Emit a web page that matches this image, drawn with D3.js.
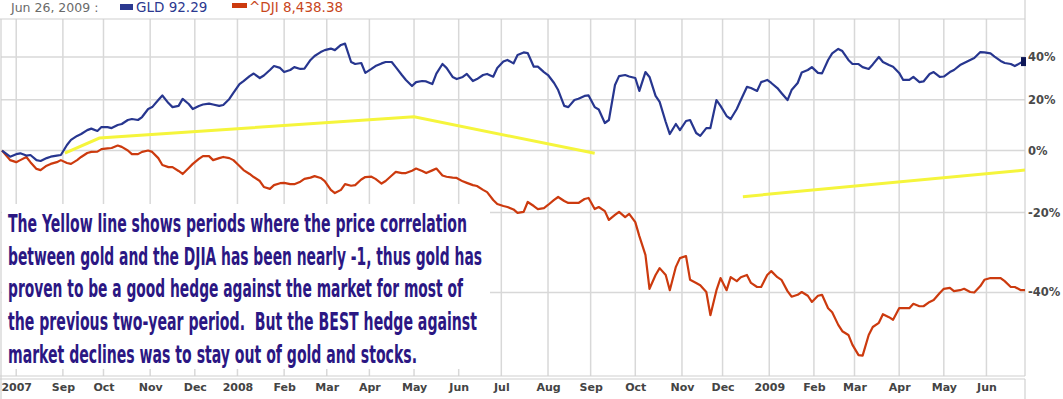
<!DOCTYPE html>
<html>
<head>
<meta charset="utf-8">
<script src="https://cdn.jsdelivr.net/npm/d3@7"></script>
<style>
	body { margin: 0; background: #fff; }
	svg { display: block; }
</style>
</head>
<body>
<svg width="1063" height="399"></svg>
<script>
// data start, sample dates: every Friday and every Wednesday after it
const startDate = new Date(2007, 6, 23);
const firstFriday = new Date(2007, 6, 27);
const firstWednesday = new Date(2007, 7, 1);
const endDate = new Date(2009, 5, 26);

// % change since start
// Friday values
const gldFri = [
	-2.2, -1.0, -1.6, -3.7, -2.2, -1.6, 3.9, 6.1, 8.2, 8.8,
	8.4, 10.0, 12.0, 12.8, 16.9, 21.9, 16.9, 20.4, 16.1, 18.0,
	18.0, 17.8, 23.0, 28.4, 31.9, 31.0, 35.5, 32.6, 35.0, 34.3,
	40.5, 43.5, 43.5, 46.9, 36.5, 32.2, 35.5, 37.5, 35.0, 28.9,
	27.9, 28.2, 31.9, 34.6, 29.3, 31.7, 29.3, 31.7, 34.6, 38.5,
	41.0, 42.0, 35.2, 31.2, 24.3, 16.9, 20.5, 21.9, 15.9, 11.6,
	30.7, 30.5, 23.9, 30.3, 19.1, 6.1, 7.6, 11.6, 5.4, 8.4,
	17.4, 12.0, 19.9, 25.2, 27.9, 27.5, 23.0, 24.3, 32.4, 35.0,
	32.0, 41.8, 43.0, 36.5, 35.0, 36.3, 37.5, 35.2, 28.9, 30.3,
	28.2, 32.6, 30.5, 33.6, 37.0, 39.5, 42.3, 40.2, 37.0, 35.5,
	37.7
];
// Wednesday values
const gldWed = [
	-1.3, -1.8, -3.4, -2.7, -1.8, 2.0, 5.4, 7.6, 7.3, 8.8,
	9.6, 11.6, 11.6, 16.1, 19.9, 18.6, 17.4, 18.2, 17.4, 18.4,
	17.4, 20.4, 27.0, 30.7, 29.8, 33.6, 34.6, 33.6, 34.1, 38.5,
	42.5, 44.3, 46.2, 37.5, 37.0, 34.1, 36.8, 37.5, 31.2, 26.1,
	28.4, 27.0, 36.5, 30.3, 30.3, 28.4, 31.2, 30.4, 37.7, 36.8,
	42.3, 35.2, 32.6, 27.5, 17.4, 19.9, 21.7, 16.9, 10.4, 26.6,
	31.2, 29.8, 32.6, 21.7, 10.8, 10.0, 11.2, 6.5, 8.4, 19.9,
	13.2, 16.1, 25.7, 23.9, 28.9, 25.2, 19.9, 27.5, 33.6, 32.2,
	38.5, 44.1, 38.5, 36.5, 34.1, 40.0, 36.0, 32.2, 28.9, 27.9,
	31.7, 30.3, 32.6, 36.0, 38.5, 42.5, 41.8, 38.0, 36.5, 37.2
];
const djiFri = [
	-3.4, -3.4, -4.1, -6.8, -4.7, -3.4, -4.7, -2.3, -0.5, 0.5,
	0.9, 1.3, -1.3, -0.5, -0.5, -5.1, -5.8, -8.1, -4.7, -2.0,
	-3.4, -2.3, -3.4, -6.8, -9.1, -12.3, -11.7, -11.0, -11.4, -9.7,
	-8.8, -10.4, -14.2, -11.4, -11.7, -9.1, -9.7, -10.4, -7.4, -7.8,
	-6.3, -7.8, -6.3, -9.0, -9.4, -11.0, -12.0, -13.9, -17.5, -18.4,
	-20.1, -16.9, -19.0, -17.8, -15.4, -17.2, -17.2, -15.7, -18.4, -22.1,
	-19.8, -20.4, -26.5, -39.2, -34.5, -39.5, -32.1, -37.2, -38.4, -44.7,
	-36.8, -36.6, -36.6, -37.9, -38.8, -35.2, -37.2, -40.9, -39.9, -42.0,
	-40.5, -44.1, -47.8, -50.3, -52.2, -47.0, -44.5, -45.6, -43.3, -42.4,
	-42.9, -41.6, -39.2, -39.7, -39.2, -40.0, -37.2, -36.8, -37.5, -38.8,
	-39.5
];
const djiWed = [
	-4.1, -2.3, -6.4, -5.3, -4.1, -4.4, -3.4, -0.9, -0.4, 0.8,
	1.8, 0.0, -1.3, 0.0, -2.7, -5.8, -7.1, -6.1, -3.0, -2.0,
	-2.7, -2.7, -5.4, -8.1, -10.4, -12.9, -11.1, -11.4, -10.6, -9.3,
	-9.4, -13.2, -13.2, -11.9, -9.9, -9.0, -11.2, -8.6, -7.8, -7.0,
	-7.1, -6.9, -8.6, -9.3, -10.5, -11.7, -13.2, -16.3, -18.1, -19.1,
	-19.8, -18.1, -18.7, -16.3, -16.6, -17.2, -16.0, -19.0, -19.6, -20.7,
	-21.3, -22.7, -31.3, -36.1, -36.1, -34.2, -31.6, -37.9, -39.9, -39.5,
	-39.5, -37.5, -36.1, -38.8, -36.1, -36.6, -39.7, -40.5, -40.7, -40.7,
	-43.3, -46.6, -48.5, -52.1, -48.5, -46.2, -45.1, -43.3, -43.3, -42.9,
	-42.0, -40.1, -39.0, -39.5, -39.9, -38.6, -36.8, -36.8, -38.8, -39.5
];

// yellow "correlation near -1" periods
const yellowDates1 = ["2007-09-04", "2007-09-27", "2008-05-01", "2008-09-03"];
const yellowPct1 = [-0.9, 4.6, 12.9, -1.0];
const yellowDates2 = ["2008-12-15", "2009-06-26"];
const yellowPct2 = [-15.3, -6.8];

const monthLabels = [
	"2007", "Sep", "Oct", "Nov", "Dec",
	"2008", "Feb", "Mar", "Apr", "May", "Jun", "Jul", "Aug", "Sep", "Oct", "Nov", "Dec",
	"2009", "Feb", "Mar", "Apr", "May", "Jun"
];
const yTicks = [40, 20, 0, -20, -40];

const headerDate = "Jun 26, 2009 :";
const gldLabel = "GLD 92.29";
const djiLabel = "^DJI 8,438.38";

const noteLines = [
	"The Yellow line shows periods where the price correlation",
	"between gold and the DJIA has been nearly -1, thus gold has",
	"proven to be a good hedge against the market for most of",
	"the previous two-year period.  But the BEST hedge against",
	"market declines was to stay out of gold and stocks."
];

// ---------------------------------------------------------------
const svg = d3.select("svg");
const plotL = 1, plotR = 1025, plotT = 19, plotB = 376;
const parse = d3.timeParse("%Y-%m-%d");

// trading-day (weekday) index since start
const wd = (d) =>
	d3.timeDay.count(startDate, d) -
	d3.timeSunday.count(startDate, d) -
	d3.timeMonday.count(startDate, d);

const x = d3.scaleLinear().domain([0, wd(endDate)]).range([2, plotR]);
const y = d3.scaleLog().domain([0.4443, 1.605]).range([plotB, plotT]);
const yp = (p) => y(1 + p / 100);

const months = d3.timeMonth.range(new Date(2007, 7, 1), new Date(2009, 6, 1));
const monthIdx = months.map(wd);

// gridlines
const grid = svg.append("g").attr("stroke", "#d8d8d8").attr("stroke-width", 1.5);
monthIdx.forEach((m) => {
	grid.append("line")
		.attr("x1", x(m)).attr("x2", x(m))
		.attr("y1", plotT).attr("y2", plotB);
});
yTicks.forEach((t) => {
	grid.append("line")
		.attr("x1", plotL).attr("x2", plotR)
		.attr("y1", yp(t)).attr("y2", yp(t));
});

// frame
const frame = svg.append("g").attr("stroke", "#d0d0d0").attr("stroke-width", 1.2).attr("fill", "none");
frame.append("line").attr("x1", 0).attr("x2", plotR).attr("y1", plotT).attr("y2", plotT);
frame.append("line").attr("x1", plotR).attr("x2", plotR).attr("y1", 0).attr("y2", plotB);
frame.append("line").attr("x1", plotL).attr("x2", plotL).attr("y1", plotT).attr("y2", 399);
frame.append("line").attr("x1", 0).attr("x2", plotR).attr("y1", plotB).attr("y2", plotB);
frame.append("line").attr("x1", 0).attr("x2", plotR).attr("y1", 379).attr("y2", 379);
frame.append("line").attr("x1", plotR).attr("x2", plotR).attr("y1", 379).attr("y2", 399);

// note box (white, covers grid)
svg.append("rect")
	.attr("x", 2).attr("y", 204)
	.attr("width", 488).attr("height", 165)
	.attr("fill", "#fff");

// series: merge Friday and Wednesday samples in date order
const buildSeries = (fri, wed) => {
	let pts = [[startDate, 0]];
	fri.forEach((v, i) => pts.push([d3.timeDay.offset(firstFriday, 7 * i), v]));
	wed.forEach((v, i) => pts.push([d3.timeDay.offset(firstWednesday, 7 * i), v]));
	return pts.sort((a, b) => a[0] - b[0]);
};
const gldData = buildSeries(gldFri, gldWed);
const djiData = buildSeries(djiFri, djiWed);

const line = d3.line()
	.x((d) => x(wd(d[0])))
	.y((d) => yp(d[1]));

svg.append("path")
	.datum(djiData)
	.attr("fill", "none")
	.attr("stroke", "#cc3a0e")
	.attr("stroke-width", 2.2)
	.attr("stroke-linejoin", "round")
	.attr("d", line);

svg.append("path")
	.datum(gldData)
	.attr("fill", "none")
	.attr("stroke", "#27368f")
	.attr("stroke-width", 2.2)
	.attr("stroke-linejoin", "round")
	.attr("d", line);

[[yellowDates1, yellowPct1], [yellowDates2, yellowPct2]].forEach(([ds, ps]) => {
	svg.append("path")
		.datum(ds.map((d, i) => [parse(d), ps[i]]))
		.attr("fill", "none")
		.attr("stroke", "#f5f53c")
		.attr("stroke-width", 3)
		.attr("d", line);
});

// end marker on GLD
const last = gldData[gldData.length - 1];
svg.append("rect")
	.attr("x", x(wd(last[0])) - 4)
	.attr("y", yp(last[1]) - 4.5)
	.attr("width", 5).attr("height", 9)
	.attr("fill", "#0e1757");

// right axis labels
svg.append("g")
	.selectAll("text")
	.data(yTicks)
	.join("text")
	.attr("x", 1028)
	.attr("y", (d) => yp(d) + 4)
	.attr("font-family", "DejaVu Sans, Verdana, sans-serif")
	.attr("font-size", "11.5px")
	.attr("font-weight", "bold")
	.attr("fill", "#4a4a4a")
	.text((d) => d + "%");

// bottom axis labels
svg.append("g")
	.attr("transform", "translate(0," + 381 + ")")
	.call(
		d3.axisBottom(x)
			.tickValues(monthIdx)
			.tickFormat((d, i) => monthLabels[i])
			.tickSize(0)
			.tickPadding(2)
	)
	.call((g) => g.select(".domain").remove())
	.call((g) =>
		g.selectAll(".tick text")
			.attr("font-family", "DejaVu Sans, Verdana, sans-serif")
			.attr("font-size", "11px")
			.attr("font-weight", "bold")
			.attr("fill", "#444")
	);

// header legend
const hdr = svg.append("g").attr("font-family", "DejaVu Sans, Verdana, sans-serif");
hdr.append("text").attr("x", 11).attr("y", 12).attr("font-size", "12.5px").attr("fill", "#6a6a6a").text(headerDate);
hdr.append("rect").attr("x", 120).attr("y", 4).attr("width", 13).attr("height", 6).attr("fill", "#2b3990");
hdr.append("text").attr("x", 136).attr("y", 12).attr("font-size", "13.5px").attr("fill", "#2b3990").text(gldLabel);
hdr.append("rect").attr("x", 232).attr("y", 3).attr("width", 15).attr("height", 5).attr("fill", "#cc3a0e");
hdr.append("text").attr("x", 249).attr("y", 12).attr("font-size", "13.5px").attr("fill", "#c8461c").text(djiLabel);

// annotation
const noteWidths = [459, 474, 455, 469, 409];
svg.append("g")
	.selectAll("text")
	.data(noteLines)
	.join("text")
	.attr("x", 8)
	.attr("y", (d, i) => 232 + i * 32.7)
	.attr("xml:space", "preserve")
	.attr("font-family", "Liberation Sans Narrow, DejaVu Sans Condensed, Liberation Sans, sans-serif")
	.attr("font-size", "25px")
	.attr("font-weight", "bold")
	.attr("fill", "#2b1783")
	.attr("textLength", (d, i) => noteWidths[i])
	.attr("lengthAdjust", "spacingAndGlyphs")
	.text((d) => d);
</script>
</body>
</html>
